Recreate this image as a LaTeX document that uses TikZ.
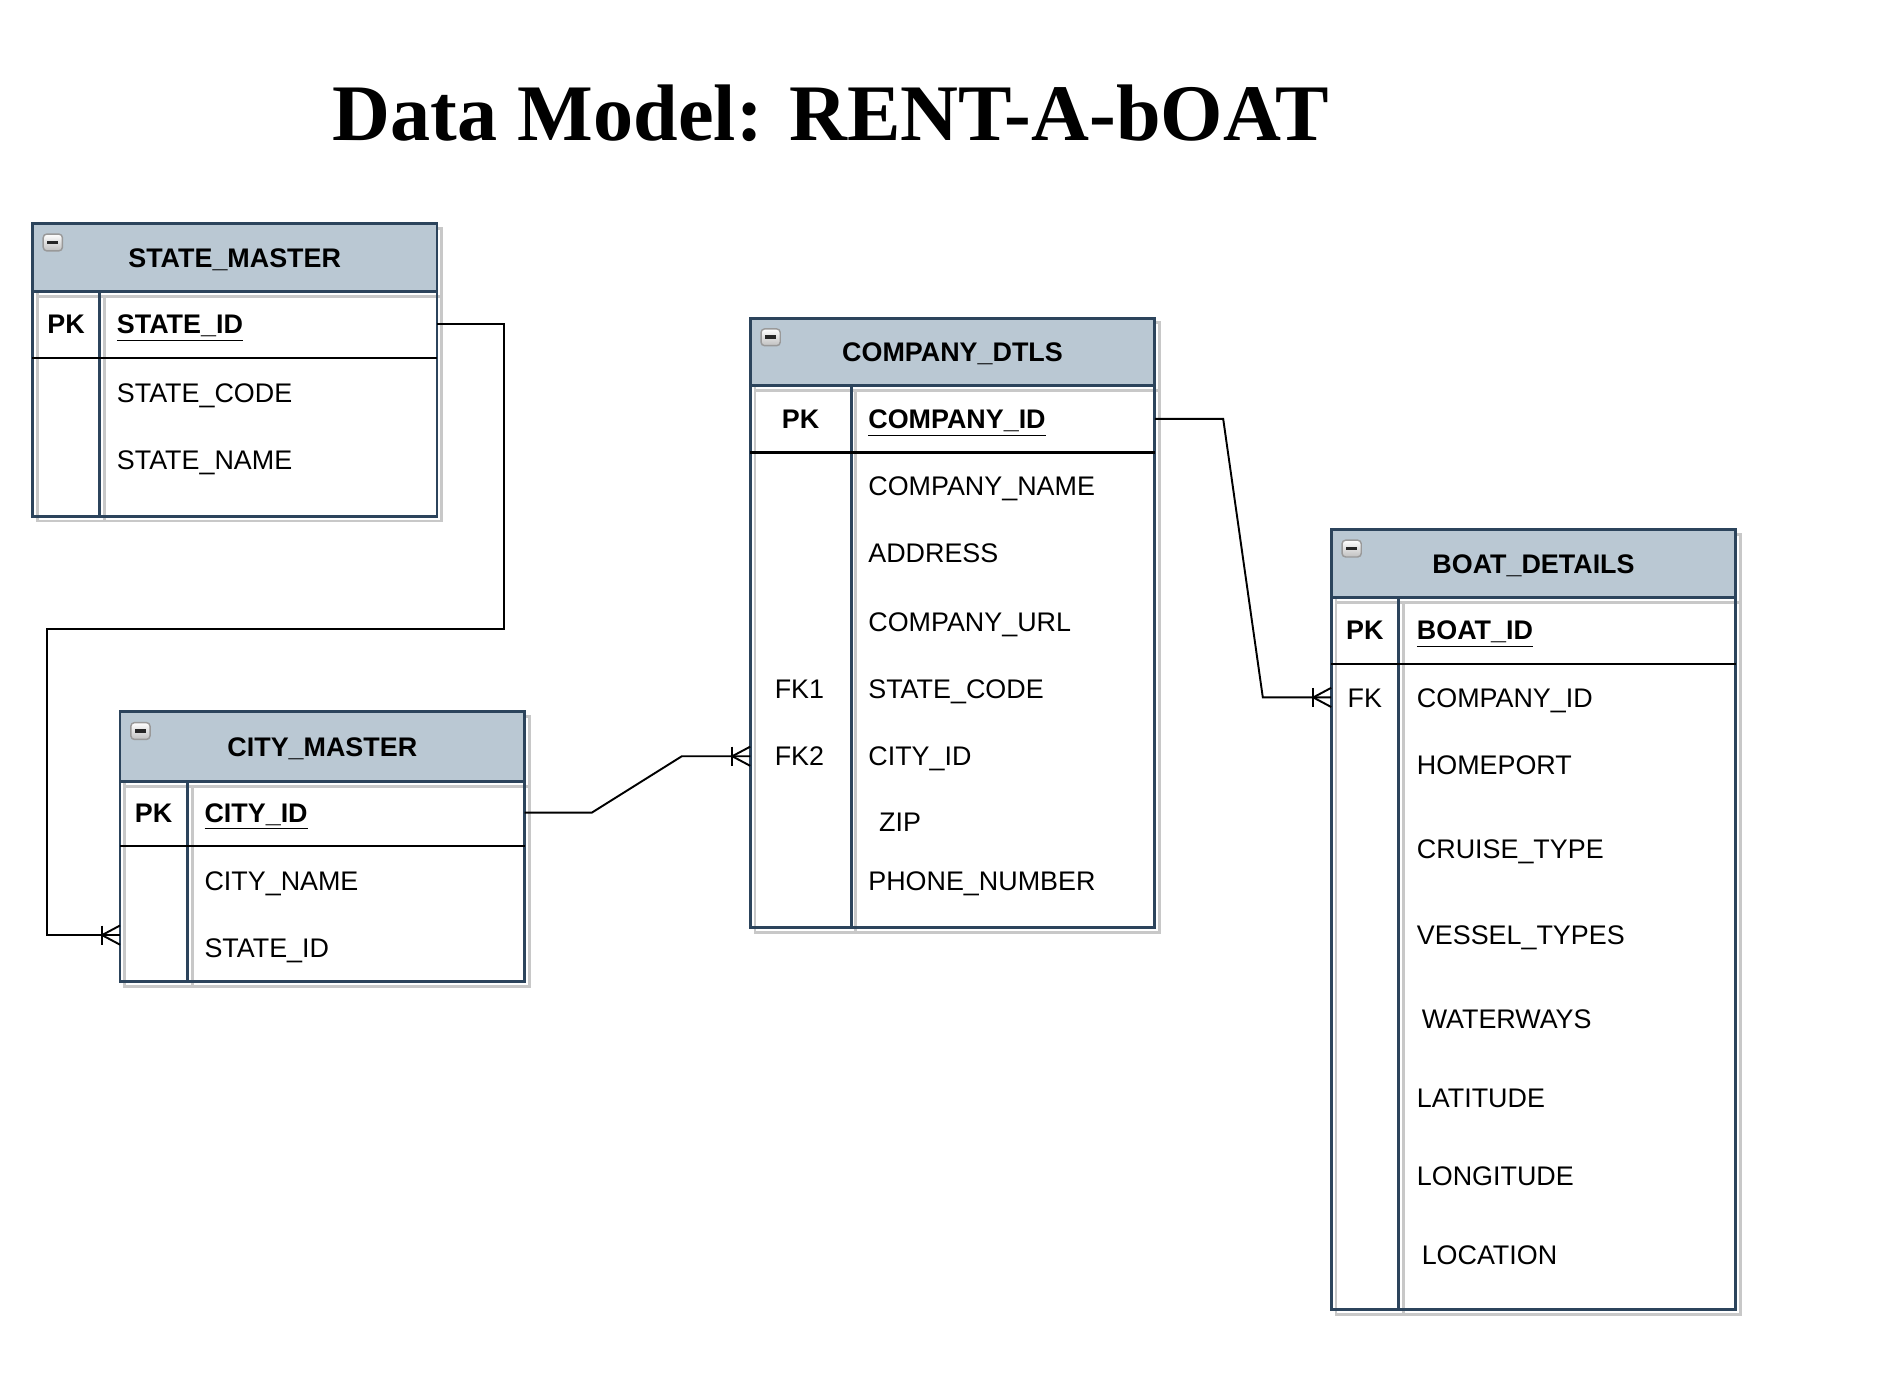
\documentclass[tikz,border=0pt]{standalone}
\usepackage{fontspec}
\setmainfont{Liberation Sans}
\newfontfamily\titlefont{Liberation Serif}
\definecolor{hdrfill}{RGB}{186,200,211}
\definecolor{tblborder}{RGB}{44,68,92}
\definecolor{shadowgray}{RGB}{200,200,200}
\tikzset{
  tblshadow/.style={draw=shadowgray,line width=1.2pt},
  tblhead/.style={draw=tblborder,fill=hdrfill,line width=1.2pt},
  tblline/.style={draw=tblborder,line width=1.2pt},
  pkline/.style={draw=black,line width=1pt},
  tblicon/.style={draw=gray!80,rounded corners=1.5pt,top color=white,bottom color=gray!50,line width=0.6pt},
  tbltitle/.style={font=\fontsize{11.2}{13}\selectfont\bfseries,text height=8pt,text depth=0pt,inner sep=0pt},
  keytag/.style={font=\fontsize{11.2}{13}\selectfont\bfseries,text height=8pt,text depth=0pt,inner sep=0pt},
  fktag/.style={font=\fontsize{11.2}{13}\selectfont,text height=8pt,text depth=0pt,inner sep=0pt},
  keycol/.style={font=\fontsize{11.2}{13}\selectfont\bfseries,anchor=west,text height=8pt,text depth=0pt,inner sep=0pt},
  colname/.style={font=\fontsize{11.2}{13}\selectfont,anchor=west,text height=8pt,text depth=0pt,inner sep=0pt},
  relline/.style={draw=black,line width=0.8pt}
}
% frame of one table: name, x1, y1, x2, y2, header bottom, pk bottom, divider, title
\newcommand{\ertable}[9]{%
  \draw[tblshadow] (#2+4,#3+4) rectangle (#4+4,#5+4);
  \draw[tblshadow] (#2+4,#6+4) -- (#4+4,#6+4);
  \draw[tblshadow] (#8+4,#6+4) -- (#8+4,#5+4);
  \draw[tblhead] (#2,#3) rectangle (#4,#6);
  \draw[tblline] (#2,#6) rectangle (#4,#5);
  \draw[tblline] (#8,#6) -- (#8,#5);
  \draw[pkline] (#2,#7) -- (#4,#7);
  \draw[tblicon] (#2+9,#3+9) rectangle (#2+25,#3+23);
  \draw[line width=1.6pt,black!85] (#2+12.5,#3+16) -- (#2+21.5,#3+16);
  \node[tbltitle] (#1) at ({(#2+#4)/2},{(#3+#6)/2}) {#9};
}
% crow's foot on the entity side
\newcommand{\crowfoot}[1]{%
  \draw[relline] ([shift={(-15,-8)}]#1) -- ([shift={(-15,8)}]#1);
  \draw[relline] ([shift={(0,-8)}]#1) -- ([shift={(-15,0)}]#1) -- ([shift={(0,8)}]#1);
}
\begin{document}
\begin{tikzpicture}[x=0.5pt,y=0.5pt,yscale=-1,xscale=1]
    \useasboundingbox (0,0) rectangle (1567,1149);
    % Title
    \node[font=\titlefont\bfseries\fontsize{33.4}{40}\selectfont,anchor=base west,inner sep=0pt] (title) at (277,117) {Data Model: RENT-A-bOAT};

    % STATE_MASTER
    \ertable{state}{27}{186}{364}{430}{243}{298}{83}{STATE\_MASTER}
    \node[keytag] (state-pk) at (55,270) {PK};
    \node[keycol] (state-id) at (97,270) {\underline{STATE\_ID}};
    \node[colname] (state-code) at (97,327) {STATE\_CODE};
    \node[colname] (state-name) at (97,383) {STATE\_NAME};
    \coordinate (state-out) at (364,270);

    % CITY_MASTER
    \ertable{city}{100}{593}{437}{818}{651}{705}{156}{CITY\_MASTER}
    \node[keytag] (city-pk) at (128,677) {PK};
    \node[keycol] (city-id) at (170,677) {\underline{CITY\_ID}};
    \node[colname] (city-name) at (170,734) {CITY\_NAME};
    \node[colname] (city-state) at (170,790) {STATE\_ID};
    \coordinate (city-out) at (437,677);
    \coordinate (city-in) at (100,779);

    % COMPANY_DTLS
    \ertable{company}{625}{265}{962}{773}{321}{377}{709}{COMPANY\_DTLS}
    \node[keytag] (company-pk) at (667,349) {PK};
    \node[keycol] (company-id) at (723,349) {\underline{COMPANY\_ID}};
    \node[colname] (company-name) at (723,405) {COMPANY\_NAME};
    \node[colname] (company-addr) at (723,461) {ADDRESS};
    \node[colname] (company-url) at (723,518) {COMPANY\_URL};
    \node[fktag] (company-fk1) at (666,574) {FK1};
    \node[colname] (company-state) at (723,574) {STATE\_CODE};
    \node[fktag] (company-fk2) at (666,630) {FK2};
    \node[colname] (company-city) at (723,630) {CITY\_ID};
    \node[colname] (company-zip) at (732,685) {ZIP};
    \node[colname] (company-phone) at (723,734) {PHONE\_NUMBER};
    \coordinate (company-out) at (962,349);
    \coordinate (company-in) at (625,630);

    % BOAT_DETAILS
    \ertable{boat}{1109}{441}{1446}{1091}{498}{553}{1165}{BOAT\_DETAILS}
    \node[keytag] (boat-pk) at (1137,525) {PK};
    \node[keycol] (boat-id) at (1180,525) {\underline{BOAT\_ID}};
    \node[fktag] (boat-fk) at (1137,581) {FK};
    \node[colname] (boat-company) at (1180,581) {COMPANY\_ID};
    \node[colname] (boat-port) at (1180,637) {HOMEPORT};
    \node[colname] (boat-cruise) at (1180,707) {CRUISE\_TYPE};
    \node[colname] (boat-vessel) at (1180,779) {VESSEL\_TYPES};
    \node[colname] (boat-water) at (1184,849) {WATERWAYS};
    \node[colname] (boat-lat) at (1180,915) {LATITUDE};
    \node[colname] (boat-lon) at (1180,980) {LONGITUDE};
    \node[colname] (boat-loc) at (1184,1045) {LOCATION};
    \coordinate (boat-in) at (1109,581);

    % relationships
    \draw[relline] (state-out) -- (420,270) -- (420,524) -- (39,524) -- (39,779) -- (city-in);
    \crowfoot{city-in}
    \draw[relline] (city-out) -- (493,677) -- (568,630) -- (company-in);
    \crowfoot{company-in}
    \draw[relline] (company-out) -- (1019,349) -- (1052,581) -- (boat-in);
    \crowfoot{boat-in}
\end{tikzpicture}
\end{document}
